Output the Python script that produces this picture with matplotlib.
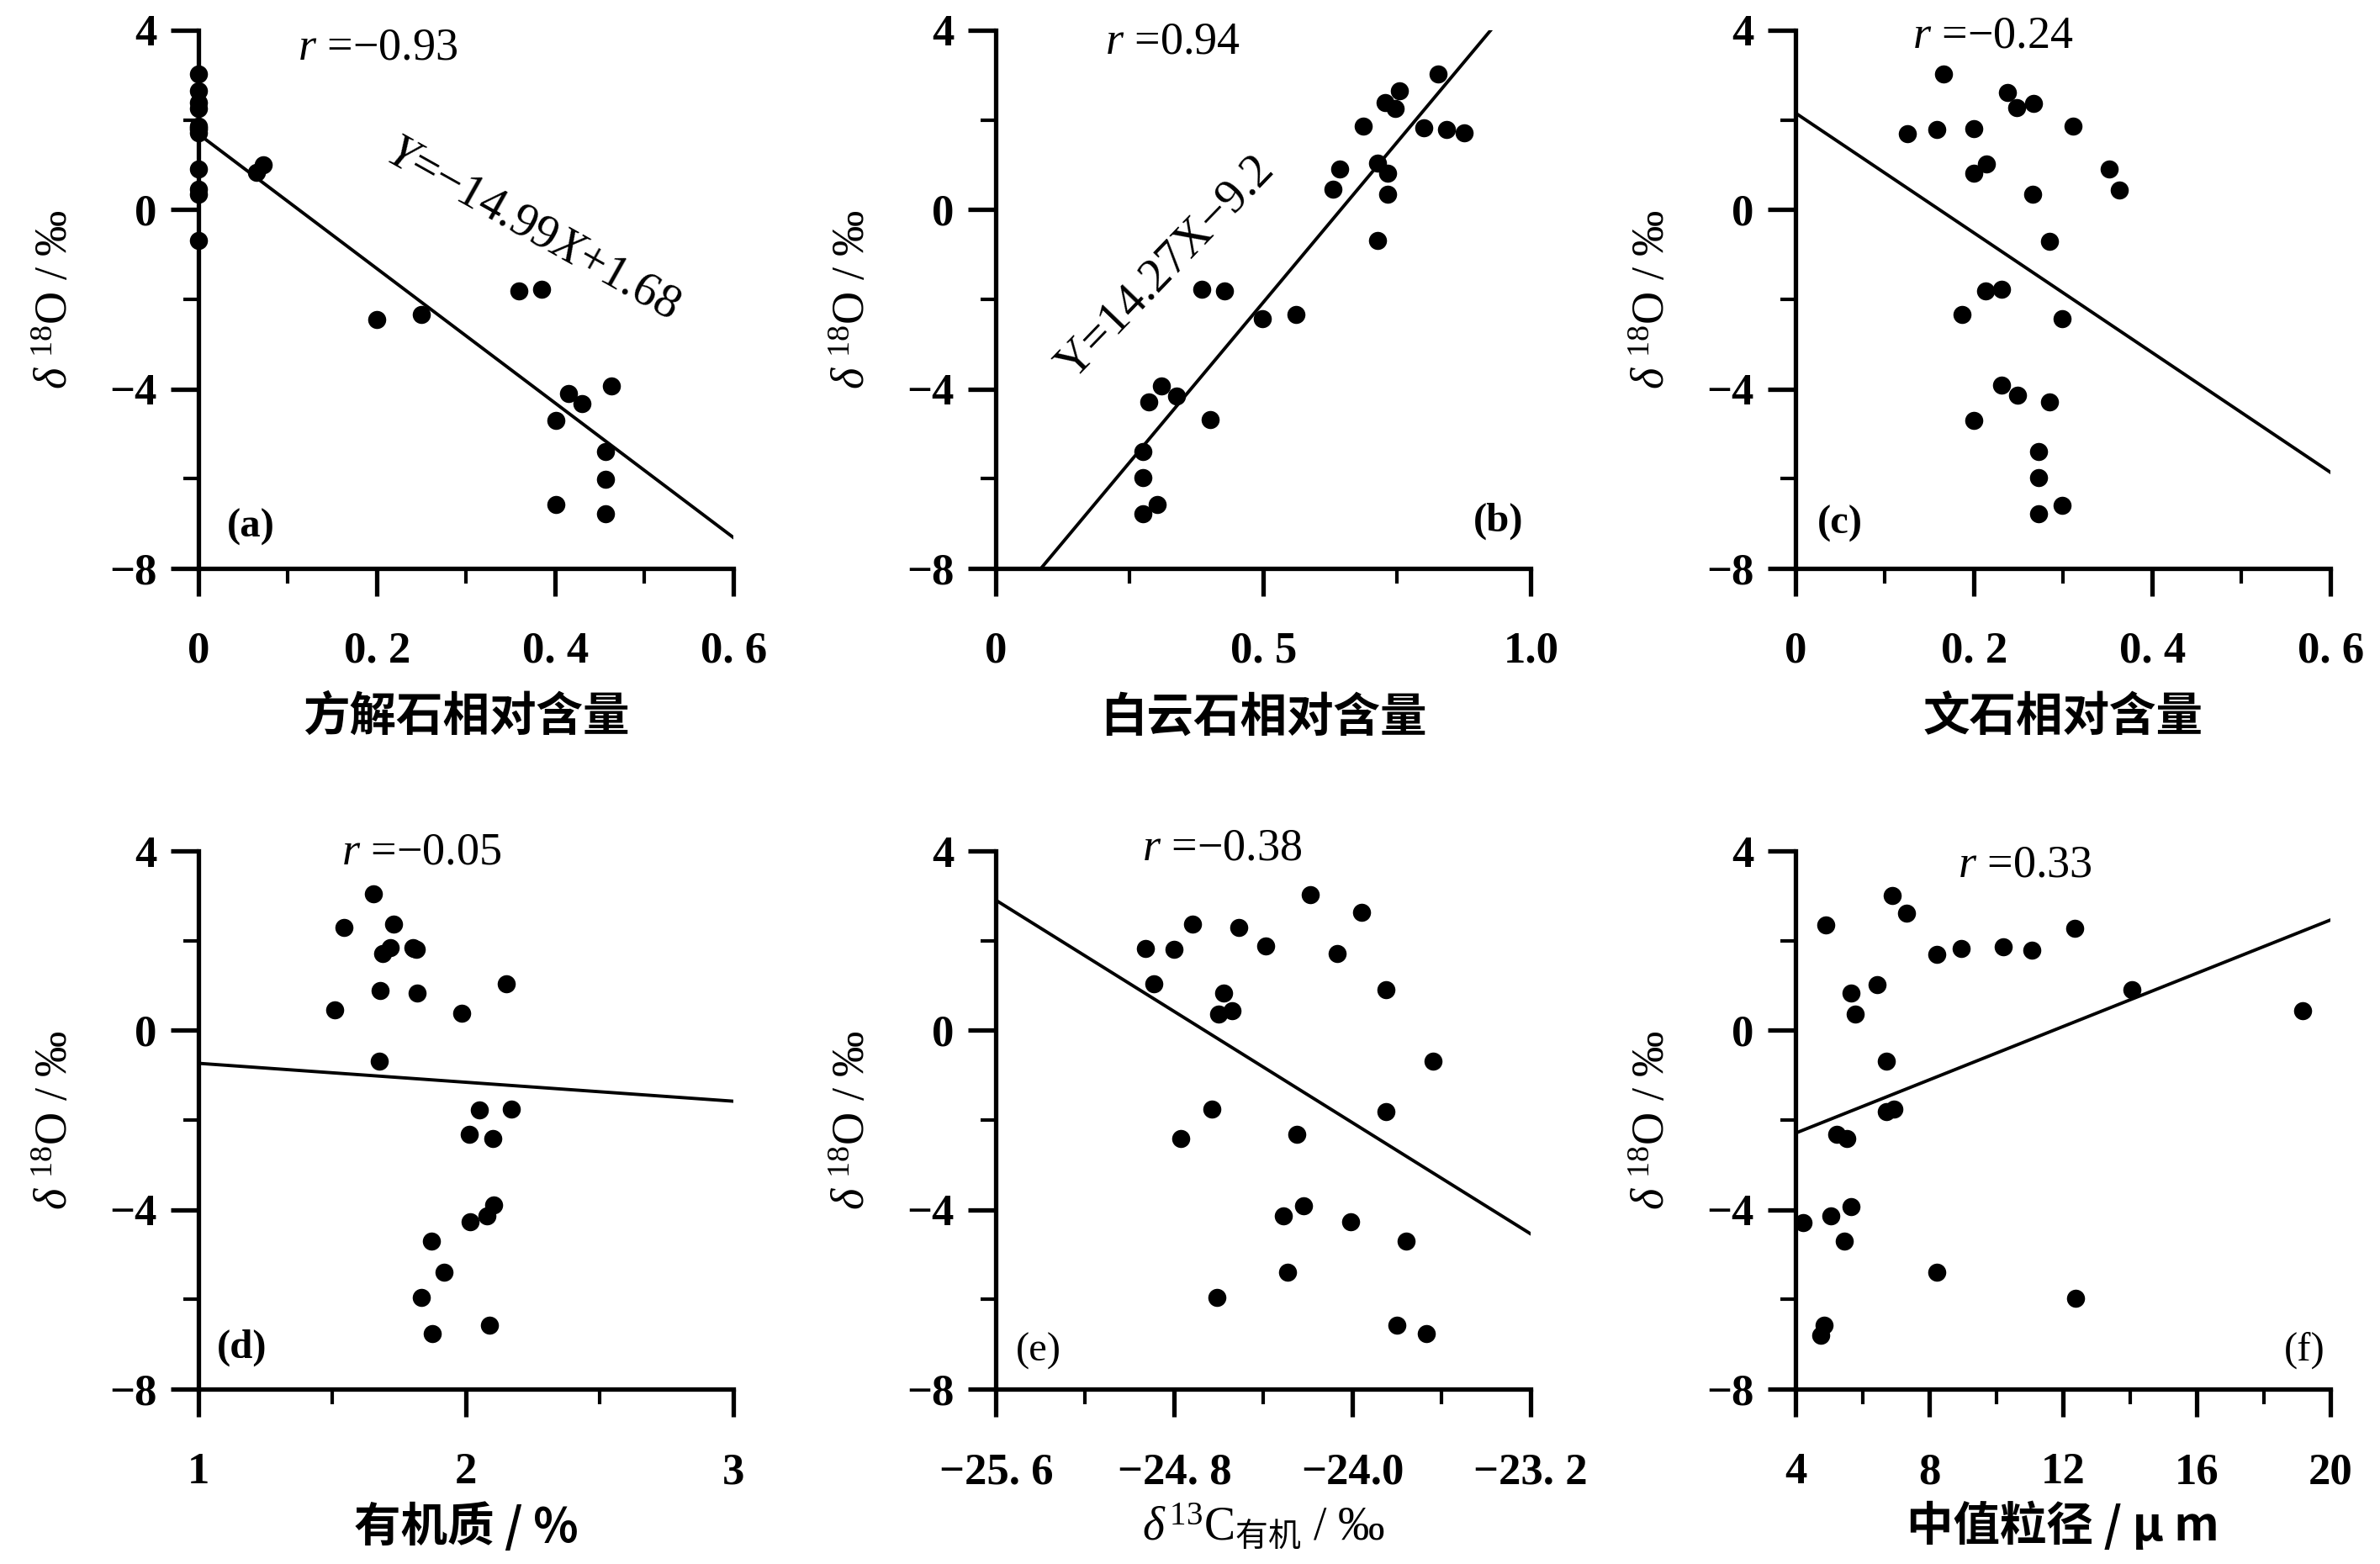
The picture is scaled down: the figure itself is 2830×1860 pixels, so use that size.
import numpy as np
import matplotlib.pyplot as plt

plt.rcParams['font.family'] = ['Liberation Serif', 'Noto Sans CJK SC', 'DejaVu Sans']
plt.rcParams['mathtext.fontset'] = 'custom'
plt.rcParams['mathtext.rm'] = 'Noto Sans CJK SC'
plt.rcParams['mathtext.it'] = 'Liberation Serif:italic'
plt.rcParams['mathtext.bf'] = 'Liberation Serif:bold'

# (a) calcite relative content
calcite_x = [0, 0, 0, 0, 0, 0, 0, 0, 0, 0, 0, 0, 0.065, 0.072,
             0.20, 0.25, 0.359, 0.385, 0.463, 0.415, 0.43, 0.401, 0.456, 0.456, 0.401, 0.456]
calcite_y = [3.03, 2.64, 2.38, 2.25, 1.86, 1.82, 1.78, 1.72, 0.91, 0.45, 0.35, -0.69, 0.83, 1.0,
             -2.46, -2.33, -1.81, -1.77, -3.93, -4.10, -4.32, -4.71, -5.40, -6.01, -6.57, -6.79]

# (b) dolomite relative content
dolomite_x = [0.826, 0.755, 0.727, 0.747, 0.686, 0.80, 0.843, 0.875, 0.643, 0.714, 0.733, 0.63, 0.733,
              0.714, 0.384, 0.427, 0.498, 0.561, 0.31, 0.286, 0.337, 0.40, 0.275, 0.275, 0.302, 0.275]
dolomite_y = [3.03, 2.64, 2.38, 2.25, 1.86, 1.82, 1.78, 1.72, 0.91, 1.04, 0.82, 0.45, 0.35,
              -0.69, -1.77, -1.81, -2.44, -2.33, -3.93, -4.28, -4.15, -4.69, -5.40, -5.98, -6.57, -6.79]

# (c) aragonite relative content
aragonite_x = [0.166, 0.238, 0.248, 0.267, 0.125, 0.158, 0.20, 0.311, 0.214, 0.20, 0.352, 0.363, 0.266,
               0.285, 0.213, 0.231, 0.187, 0.299, 0.231, 0.249, 0.285, 0.20, 0.272, 0.272, 0.299, 0.272]
aragonite_y = [3.03, 2.62, 2.27, 2.36, 1.69, 1.78, 1.80, 1.86, 1.02, 0.81, 0.91, 0.44, 0.35,
               -0.71, -1.81, -1.77, -2.33, -2.44, -3.92, -4.13, -4.28, -4.71, -5.40, -5.98, -6.59, -6.79]

# (d) organic matter %
organic_x = [1.654, 1.543, 1.729, 1.717, 1.688, 1.803, 1.814, 1.677, 1.816, 2.15, 1.507, 1.984, 1.674,
             2.05, 2.168, 2.013, 2.10, 2.102, 2.079, 2.016, 1.871, 1.918, 1.831, 2.087, 1.874, 1.80]
organic_y = [3.05, 2.29, 2.36, 1.85, 1.72, 1.82, 1.81, 0.89, 0.84, 1.04, 0.45, 0.38, -0.69,
             -1.78, -1.76, -2.31, -2.42, -3.90, -4.13, -4.26, -4.69, -5.39, -5.95, -6.57, -6.77, 1.84]

# (e) delta13C organic
d13c_x = [-24.19, -23.96, -24.72, -24.51, -24.93, -24.80, -24.39, -24.07, -24.89, -23.85, -24.58, -24.54, -24.60,
          -23.64, -24.63, -23.85, -24.77, -24.25, -24.22, -24.31, -24.01, -23.76, -24.29, -24.61, -23.80, -23.67]
d13c_y = [3.03, 2.63, 2.36, 2.29, 1.82, 1.80, 1.88, 1.71, 1.04, 0.90, 0.84, 0.43, 0.36,
          -0.69, -1.76, -1.81, -2.42, -2.32, -3.92, -4.13, -4.26, -4.69, -5.39, -5.96, -6.57, -6.77]

# (f) median grain size um
grain_x = [6.88, 7.32, 4.89, 12.35, 8.23, 8.94, 10.21, 11.06, 14.06, 19.17, 6.43, 5.65, 5.77,
           6.72, 6.72, 6.94, 5.23, 5.52, 4.22, 5.06, 5.65, 5.46, 8.23, 12.37, 4.85, 4.75]
grain_y = [3.01, 2.62, 2.35, 2.28, 1.69, 1.82, 1.86, 1.79, 0.91, 0.43, 1.01, 0.84, 0.37,
           -0.69, -1.81, -1.76, -2.32, -2.42, -4.29, -4.14, -3.93, -4.70, -5.39, -5.97, -6.58, -6.79]

# regression lines: slope, intercept, x range
fits = [(-14.99, 1.68, (0, 0.6)),
        (14.27, -9.2, (0.085, 0.93)),
        (-13.35, 2.15, (0, 0.6)),
        (-0.4225, -0.3125, (1, 3)),
        (-3.10, -76.46, (-25.6, -23.2)),
        (0.297, -3.478, (4, 20))]

r_texts = ['$r$ =−0.93', '$r$ =0.94', '$r$ =−0.24', '$r$ =−0.05', '$r$ =−0.38', '$r$ =0.33']
r_pos = [(0.335, 0.966), (0.33, 0.977), (0.369, 0.988), (0.417, 0.996), (0.423, 1.005), (0.428, 0.973)]
panel_tags = ['(a)', '(b)', '(c)', '(d)', '(e)', '(f)']
tag_pos = [(0.097, 0.076), (0.94, 0.087), (0.082, 0.083), (0.081, 0.077), (0.079, 0.07), (0.952, 0.072)]

xlims = [(0, 0.6), (0, 1.0), (0, 0.6), (1, 3), (-25.6, -23.2), (4, 20)]
xmajor = [[0, 0.2, 0.4, 0.6], [0, 0.5, 1.0], [0, 0.2, 0.4, 0.6], [1, 2, 3],
          [-25.6, -24.8, -24.0, -23.2], [4, 8, 12, 16, 20]]
xmajor_labels = [['0', '0. 2', '0. 4', '0. 6'], ['0', '0. 5', '1.0'], ['0', '0. 2', '0. 4', '0. 6'],
                 ['1', '2', '3'], ['−25. 6', '−24. 8', '−24.0', '−23. 2'], ['4', '8', '12', '16', '20']]
xminor = [[0.1, 0.3, 0.5], [0.25, 0.75], [0.1, 0.3, 0.5], [1.5, 2.5],
          [-25.2, -24.4, -23.6], [6, 10, 14, 18]]
xlabels = ['方解石相对含量', '白云石相对含量', '文石相对含量', '有机质 / %',
           r'$\delta\,^{\mathregular{13}}\mathregular{C}_{\mathrm{有机}}$ / ‰', '中值粒径 / μ m']
ylabel = r'$\delta\ ^{\mathregular{18}}$O / ‰'
yticks = [-8, -4, 0, 4]
ytick_labels = ['−8', '−4', '0', '4']
yminor = [-6, -2, 2]

xs = [calcite_x, dolomite_x, aragonite_x, organic_x, d13c_x, grain_x]
ys = [calcite_y, dolomite_y, aragonite_y, organic_y, d13c_y, grain_y]

fig = plt.figure(figsize=(28.3, 18.6), dpi=100)
lefts = [0.0835, 0.4185, 0.7545]
bottoms = [0.6366, 0.1118]
w, h = 0.2247, 0.3441

for i in range(6):
    ax = fig.add_axes([lefts[i % 3], bottoms[i // 3], w, h])
    ax.scatter(xs[i], ys[i], s=240, color='black', linewidths=0, zorder=3, clip_on=False)
    k, b, (x0, x1) = fits[i]
    lx = np.array([x0, x1])
    ax.plot(lx, k * lx + b, color='black', lw=2.8, zorder=2)

    ax.set_xlim(*xlims[i])
    ax.set_ylim(-8, 4)
    for s in ['top', 'right']:
        ax.spines[s].set_visible(False)
    for s in ['left', 'bottom']:
        ax.spines[s].set_linewidth(3.8)

    ax.set_xticks(xmajor[i], xmajor_labels[i])
    ax.set_xticks(xminor[i], minor=True)
    ax.set_yticks(yticks, ytick_labels)
    ax.set_yticks(yminor, minor=True)
    ax.tick_params(axis='both', which='major', direction='out', length=24, width=3.8,
                   labelsize=38)
    ax.tick_params(axis='both', which='minor', direction='out', length=13, width=3)
    ax.tick_params(axis='x', which='major', pad=30)
    ax.tick_params(axis='y', which='major', pad=12)
    for lab in ax.get_xticklabels() + ax.get_yticklabels():
        lab.set_fontweight('bold')

    ax.text(-0.266, 0.5, ylabel, transform=ax.transAxes, rotation=90,
            ha='center', va='center', fontsize=39)
    ly = -0.277 if i < 3 else -0.255
    ax.text(0.5, ly, xlabels[i], transform=ax.transAxes, ha='center', va='center',
            fontsize=40, fontweight='bold' if i != 4 else 'normal',
            family=['Noto Sans CJK SC', 'Liberation Serif'] if i != 4 else ['Liberation Serif'])

    ax.text(r_pos[i][0], r_pos[i][1], r_texts[i], transform=ax.transAxes,
            ha='center', va='center', fontsize=39)
    ax.text(tag_pos[i][0], tag_pos[i][1], panel_tags[i], transform=ax.transAxes,
            ha='center', va='center', fontsize=35,
            fontweight='bold' if i < 4 else 'normal')

    if i == 0:
        ax.text(0.625, 0.631, '$Y$=−14.99$X$+1.68', transform=ax.transAxes,
                ha='center', va='center', fontsize=41, rotation=-29.3,
                rotation_mode='anchor')
    if i == 1:
        ax.text(0.318, 0.559, 'Y=14.27X−9.2', transform=ax.transAxes,
                ha='center', va='center', fontsize=41, rotation=46,
                rotation_mode='anchor')

fig.savefig('out.png', dpi=100, facecolor='white')
